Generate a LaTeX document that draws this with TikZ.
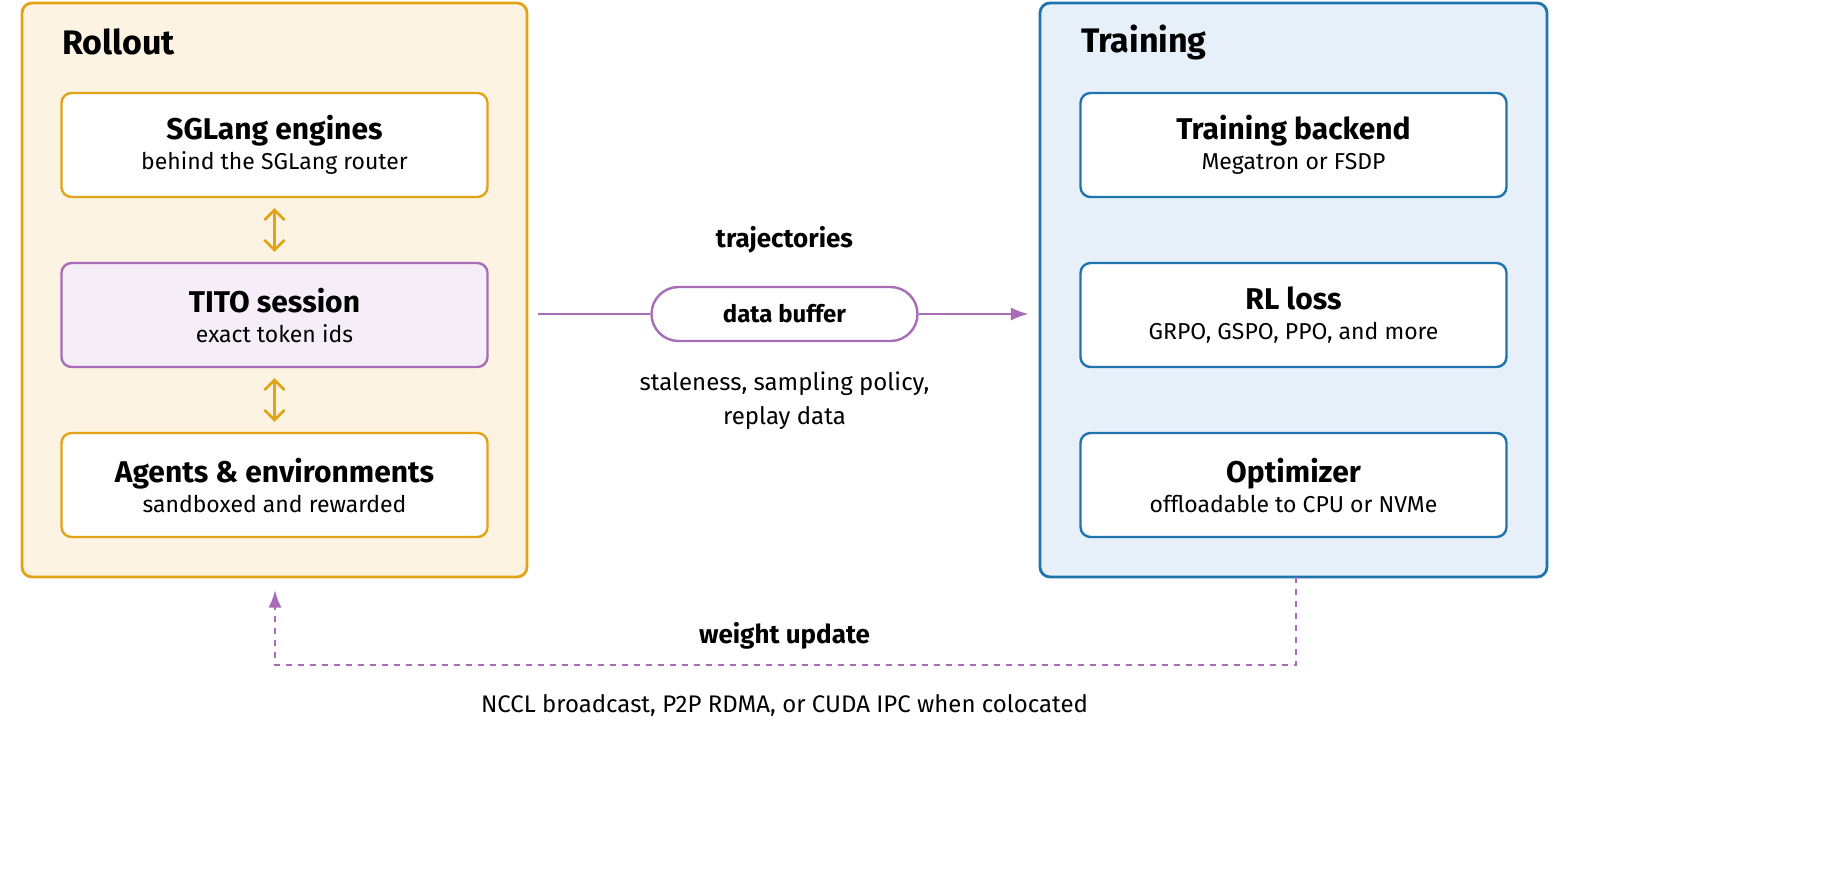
\documentclass[tikz,border=0pt]{standalone}
\usepackage{fontspec}
\setmainfont{Fira Sans}
\usepackage{tikz}
\usetikzlibrary{positioning,arrows.meta,shapes,calc}

\definecolor{rollfill}{HTML}{FDF3E2}
\definecolor{rollline}{HTML}{E2A416}
\definecolor{trainfill}{HTML}{E7F0F9}
\definecolor{trainline}{HTML}{1F74AE}
\definecolor{titofill}{HTML}{F5EDF8}
\definecolor{titoline}{HTML}{A86CB8}

\begin{document}
\begin{tikzpicture}[
    x=0.5pt, y=-0.5pt,
    >=Latex,
    group/.style={rectangle, draw, rounded corners=5pt, line width=1.4pt},
    inner/.style={rectangle, draw, rounded corners=5pt, line width=1.2pt, fill=white,
        minimum width=213pt, minimum height=52pt, align=center, font=\fontsize{11.5}{15}\selectfont},
    grouptitle/.style={font=\fontsize{17}{20}\selectfont\bfseries, anchor=west},
    label/.style={font=\fontsize{12}{17}\selectfont, align=center}
]
\fill[white] (0,0) rectangle (1845,870);

% === Rollout ===
\node[group, draw=rollline, fill=rollfill, minimum width=252.5pt, minimum height=287pt] (rollout) at (274.5,290) {};
\node[grouptitle] (rolltitle) at (55,42) {Rollout};
\node[inner, draw=rollline] (sglang) at (274.5,145) {{\fontsize{15}{18}\selectfont\bfseries SGLang engines}\\behind the SGLang router};
\node[inner, draw=titoline, fill=titofill] (tito) at (274.5,315) {{\fontsize{15}{18}\selectfont\bfseries TITO session}\\exact token ids};
\node[inner, draw=rollline] (agents) at (274.5,485) {{\fontsize{15}{18}\selectfont\bfseries Agents \& environments}\\sandboxed and rewarded};
\draw[{Straight Barb[length=5pt]}-{Straight Barb[length=5pt]}, rollline, line width=1.3pt] ([yshift=-5pt]sglang.south) -- ([yshift=5pt]tito.north);
\draw[{Straight Barb[length=5pt]}-{Straight Barb[length=5pt]}, rollline, line width=1.3pt] ([yshift=-5pt]tito.south) -- ([yshift=5pt]agents.north);

% === Training ===
\node[group, draw=trainline, fill=trainfill, minimum width=253.5pt, minimum height=287pt] (training) at (1293.5,290) {};
\node[grouptitle] (traintitle) at (1074,42) {Training};
\node[inner, draw=trainline] (backend) at (1293.5,145) {{\fontsize{15}{18}\selectfont\bfseries Training backend}\\Megatron or FSDP};
\node[inner, draw=trainline] (loss) at (1293.5,315) {{\fontsize{15}{18}\selectfont\bfseries RL loss}\\GRPO, GSPO, PPO, and more};
\node[inner, draw=trainline] (optim) at (1293.5,485) {{\fontsize{15}{18}\selectfont\bfseries Optimizer}\\offloadable to CPU or NVMe};

% === Data buffer ===
\node[rectangle, rounded corners=13.5pt, draw=titoline, fill=white, line width=1.2pt,
      minimum width=133pt, minimum height=27pt, font=\fontsize{12}{15}\selectfont\bfseries] (buffer) at (784.5,314) {data buffer};
\node[label, font=\fontsize{13}{16}\selectfont\bfseries] (traj) at (784.5,240) {trajectories};
\node[label] (policy) at (784.5,401) {staleness, sampling policy,\\replay data};
\draw[titoline, line width=1.3pt] ([xshift=5pt]rollout.east |- buffer) -- (buffer.west);
\draw[->, titoline, line width=1.3pt] (buffer.east) -- ([xshift=-5pt]training.west |- buffer);

% === Weight update ===
\coordinate (wtop) at (1296,577);
\coordinate (wbot) at (275,590);
\draw[->, titoline, line width=1.3pt, dashed] (wtop) -- (1296,665) -- (275,665) -- (wbot);
\node[label, font=\fontsize{13}{16}\selectfont\bfseries] (wlabel) at (784.5,636) {weight update};
\node[label] (wnote) at (784.5,705) {NCCL broadcast, P2P RDMA, or CUDA IPC when colocated};
\end{tikzpicture}
\end{document}
